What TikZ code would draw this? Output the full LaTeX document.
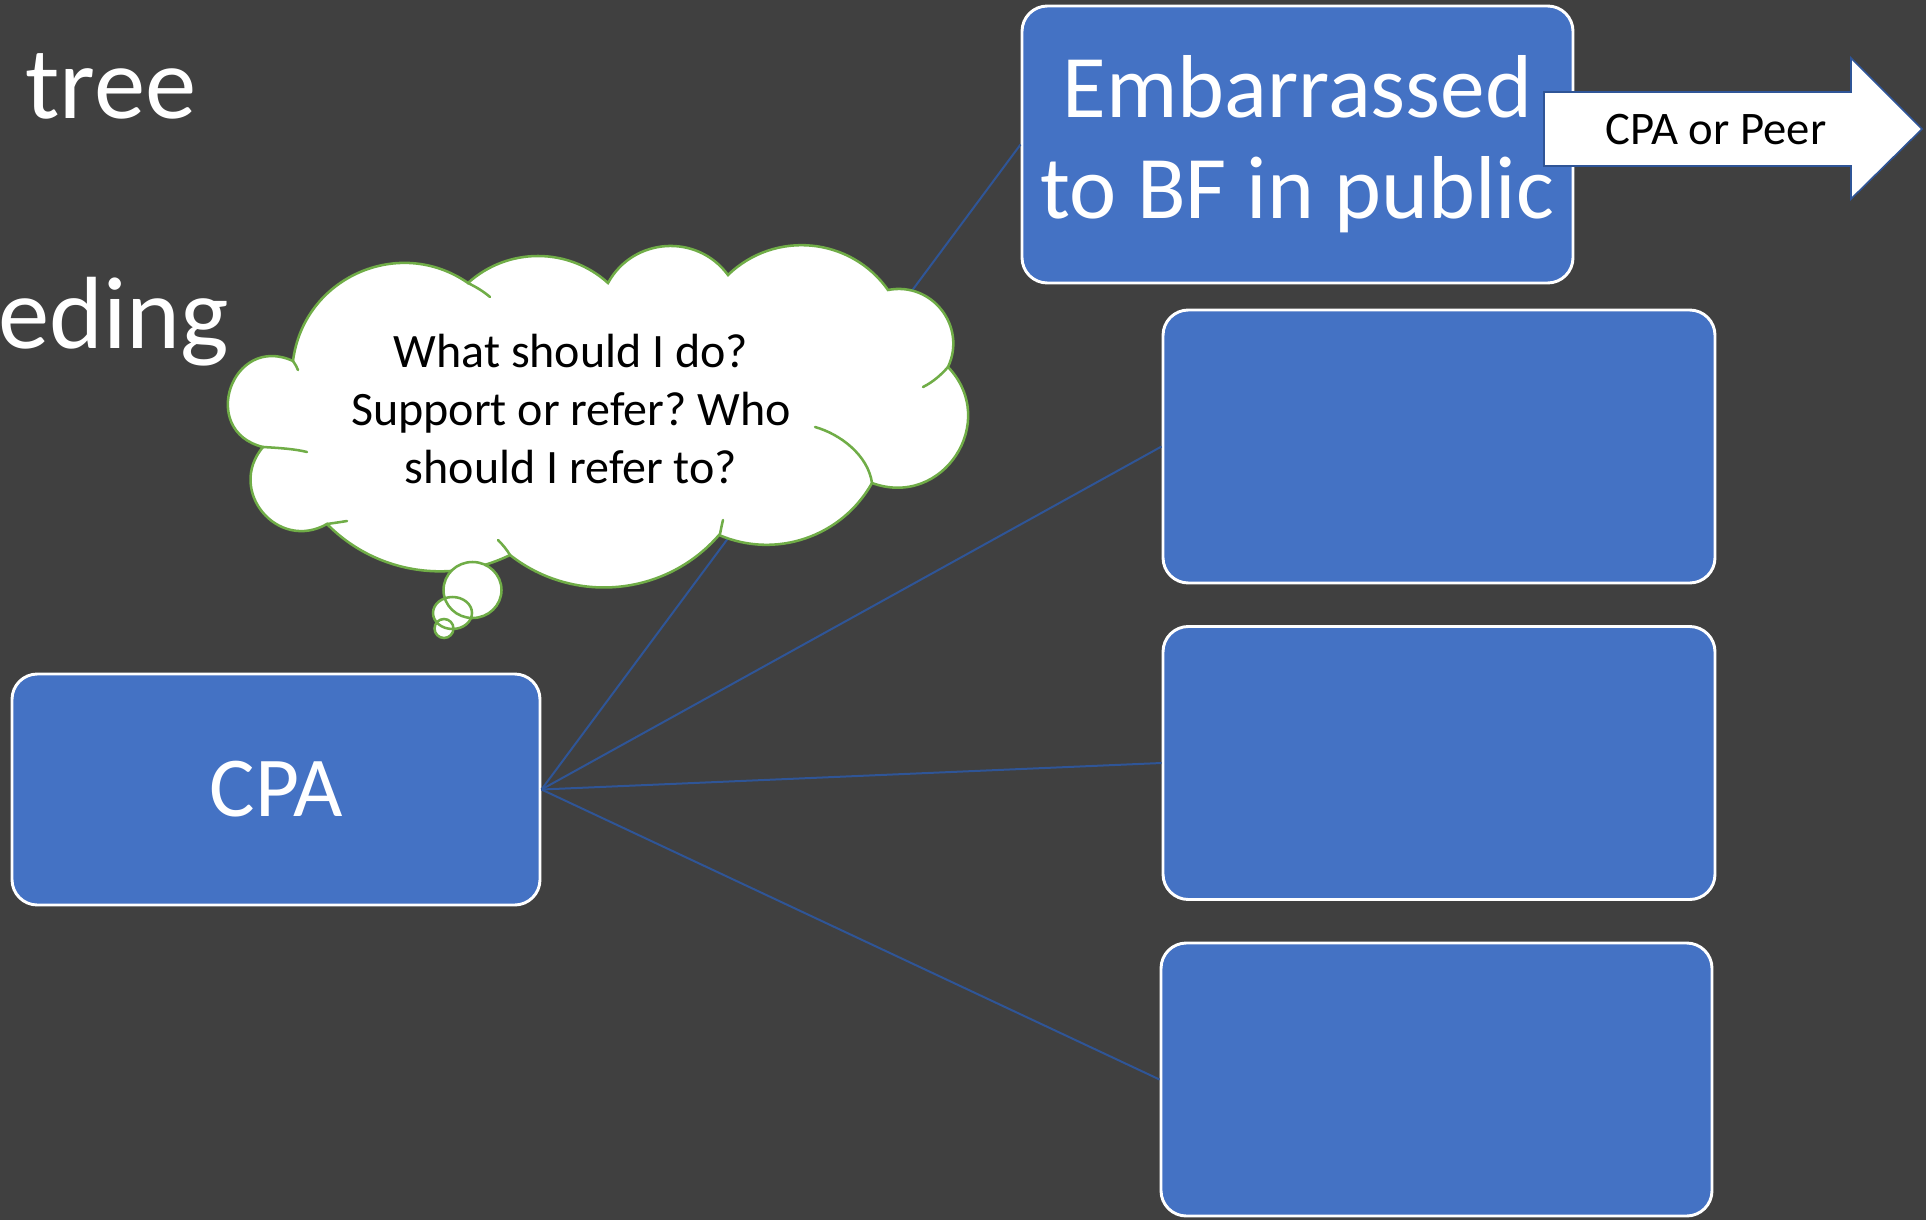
\documentclass[tikz,border=0pt]{standalone}
\usepackage{fontspec}
\setmainfont{Carlito}
\frenchspacing
\definecolor{slidebg}{RGB}{64,64,64}
\definecolor{boxblue}{RGB}{68,114,196}
\definecolor{linkblue}{RGB}{47,85,151}
\definecolor{cloudgreen}{RGB}{112,173,71}
\tikzset{
  choice/.style={draw=white, line width=2.2pt, fill=boxblue, rounded corners=19pt, text=white, align=center, inner sep=0pt},
  link/.style={draw=linkblue, line width=1.5pt},
  cloudline/.style={draw=cloudgreen, line width=1.9pt, line cap=round},
  slidetitle/.style={anchor=base west, inner sep=0pt, text=white, font=\fontsize{77}{80}\selectfont},
}

\begin{document}
\begin{tikzpicture}[x=0.75pt,y=0.75pt,yscale=-1,xscale=1]
\useasboundingbox (0,0) rectangle (1926,1220);
%Background
\fill [slidebg] (0,0) rectangle (1926,1220);

% Text Node
\node [slidetitle] (ttltree) at (25,119) {tree};
% Text Node
\node [slidetitle] (ttleding) at (-2,348) {eding};

%Shape: Rounded Rect
\node [choice, minimum width=396pt, minimum height=173.25pt, font=\fontsize{64}{70}\selectfont] (cpa) at (276,789.5) {CPA};
%Shape: Rounded Rect
\node [choice, minimum width=413.25pt, minimum height=207.75pt, font=\fontsize{67}{76}\selectfont] (shy) at (1297.5,144.5) {Embarrassed\\to BF in public};
%Shape: Rounded Rect
\node [choice, minimum width=414pt, minimum height=204.75pt] (optb) at (1439,446.5) {};
%Shape: Rounded Rect
\node [choice, minimum width=414pt, minimum height=204.75pt] (optc) at (1439,763) {};
%Shape: Rounded Rect
\node [choice, minimum width=413.25pt, minimum height=204.75pt] (optd) at (1436.5,1079.5) {};

% Links
\draw [link] (cpa.east) -- (shy.west);
\draw [link] (cpa.east) -- (optb.west);
\draw [link] (cpa.east) -- (optc.west);
\draw [link] (cpa.east) -- (optd.west);

%Shape: Cloud
\draw [cloudline, fill=white] (293,361)
  .. controls (232.1,333.1) and (197.9,431.0) .. (263,447)
  .. controls (226.2,490.4) and (277.6,552.2) .. (327,524)
  .. controls (374.9,572.7) and (448.7,585.2) .. (510,555)
  .. controls (573.9,605.1) and (665.8,596.3) .. (719,535)
  .. controls (775.8,559.4) and (841.8,536.9) .. (872,483)
  .. controls (942.8,509.0) and (1000.1,421.5) .. (948,367)
  .. controls (967.1,326.4) and (932.0,281.4) .. (888,290)
  .. controls (850.6,236.9) and (774.6,229.8) .. (728,275)
  .. controls (697.1,233.0) and (633.0,237.3) .. (608,283)
  .. controls (568.3,247.0) and (507.7,247.0) .. (468,283)
  .. controls (398.9,235.0) and (303.5,277.6) .. (293,361) -- cycle;
% inner arcs
\draw [cloudline] (263,447) .. controls (280,448) and (295,449) .. (307,452);
\draw [cloudline] (327,524) .. controls (334,523) and (341,522) .. (347,521);
\draw [cloudline] (498,540) .. controls (503,545) and (507,550) .. (510,555);
\draw [cloudline] (923,387) .. controls (933,382) and (941,375) .. (948,367);
\draw [cloudline] (815,427) .. controls (840,434) and (868,455) .. (872,483);
\draw [cloudline] (468,283) .. controls (476,287) and (483,291) .. (490,297);
\draw [cloudline] (293,361) .. controls (295,364) and (297,367) .. (298,370);
\draw [cloudline] (720,534) .. controls (721,529) and (722,524) .. (723,520);
% bubbles
\fill [white] (472.5,590) ellipse [x radius=29, y radius=28];
\fill [white] (452.5,613) ellipse [x radius=19.5, y radius=16];
\fill [white] (444,628.5) circle [radius=9.5];
\draw [cloudline] (472.5,590) ellipse [x radius=29, y radius=28];
\draw [cloudline] (452.5,613) ellipse [x radius=19.5, y radius=16];
\draw [cloudline] (444,628.5) circle [radius=9.5];

% Text Node
\node [align=center, inner sep=0pt, font=\fontsize{36}{43.5}\selectfont] (thoughttxt) at (571,409) {What should I do?\\Support or refer? Who\\should I refer to?};

%Shape: Right Arrow
\filldraw [fill=white, draw=linkblue, line width=1.2pt] (1544,92) -- (1851,92) -- (1851,58) -- (1922,129) -- (1851,199) -- (1851,166) -- (1544,166) -- cycle;
% Text Node
\node [inner sep=0pt, font=\fontsize{35}{40}\selectfont] (who) at (1716,130) {CPA or Peer};

\end{tikzpicture}
\end{document}
